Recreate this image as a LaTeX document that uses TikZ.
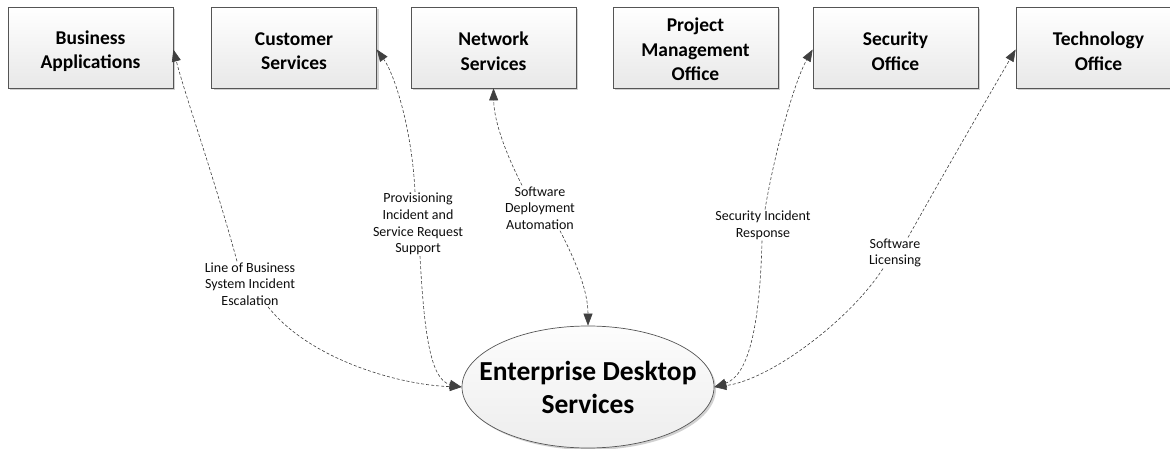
\documentclass[tikz,border=0pt]{standalone}
\usepackage{fontspec}
\setmainfont{Carlito}
\usetikzlibrary{arrows.meta,shapes.geometric,shadows,calc}
\definecolor{linec}{HTML}{404040}
\definecolor{edgec}{HTML}{555555}
\tikzset{
  unitbox/.style={rectangle, draw=edgec, line width=0.7pt, top color=white, bottom color=black!9,
    minimum width=165pt, minimum height=81pt, inner sep=0pt,
    drop shadow={shadow xshift=2pt, shadow yshift=-2pt, fill=black!30, opacity=0.6}},
  boxtext/.style={align=center, inner sep=0pt, font=\fontsize{19.5}{24.5}\selectfont\bfseries},
  hub/.style={ellipse, draw=edgec, line width=0.7pt, top color=black!1, bottom color=black!7,
    minimum width=252pt, minimum height=122pt, inner xsep=-22pt, inner ysep=0pt, align=center,
    font=\fontsize{27.5}{33}\selectfont\bfseries,
    drop shadow={shadow xshift=2pt, shadow yshift=-2pt, fill=black!30, opacity=0.6}},
  lbl/.style={align=center, inner sep=1pt, text=black!95, font=\fontsize{14}{16.7}\selectfont},
  conn/.style={draw=linec, line width=0.6pt, dash pattern=on 3pt off 2pt,
    -{Triangle[length=12pt,width=9pt,fill=linec]}}
}
\begin{document}
\begin{tikzpicture}[x=1pt,y=-1pt]
\useasboundingbox (0,0) rectangle (1170,449);
\clip (0,0) rectangle (1170,449);
% boxes
\node[unitbox] (BA) at (90.5,47.5) {};
\node[unitbox] (CS) at (294,47.5) {};
\node[unitbox] (NS) at (493.5,47.5) {};
\node[unitbox] (PMO) at (695.5,47.5) {};
\node[unitbox] (SO) at (895.5,47.5) {};
\node[unitbox] (TO) at (1098.5,47.5) {};
\node[boxtext] (BAt) at ([yshift=-3.5pt]BA.center) {Business\\Applications};
\node[boxtext] (CSt) at ([yshift=-3.5pt]CS.center) {Customer\\Services};
\node[boxtext] (NSt) at ([yshift=-3.5pt]NS.center) {Network\\Services};
\node[boxtext] (PMOt) at ([yshift=-2pt]PMO.center) {Project\\Management\\Office};
\node[boxtext] (SOt) at ([yshift=-3.5pt]SO.center) {Security\\Office};
\node[boxtext] (TOt) at ([yshift=-3.5pt]TO.center) {Technology\\Office};
% hub
\node[hub] (E) at (588,387) {Enterprise Desktop\\Services};
% labels
\node[lbl] (l1) at (250,284) {Line of Business\\System Incident\\Escalation};
\node[lbl] (l2) at (418,224) {Provisioning\\Incident and\\Service Request\\Support};
\node[lbl] (l3) at (540,208) {Software\\Deployment\\Automation};
\node[lbl] (l4) at (763,225) {Security Incident\\Response};
\node[lbl] (l5) at (895,253) {Software\\Licensing};
% connectors
\draw[conn] ([xshift=-13pt]l1.north) .. controls (215,180) and (185,95) .. ([yshift=-2pt]BA.east);
\draw[conn] ([xshift=18pt]l1.south) .. controls (310,360) and (400,385) .. (E.west);
\draw[conn] ([xshift=-3pt]l2.north) .. controls (412,130) and (395,75) .. ([yshift=-2pt]CS.east);
\draw[conn] ([xshift=2pt]l2.south) .. controls (424,330) and (430,380) .. (E.west);
\draw[conn] ([xshift=-18pt]l3.north) .. controls (510,162) and (494,125) .. (NS.south);
\draw[conn] ([xshift=20pt]l3.south) .. controls (575,260) and (588,290) .. (E.north);
\draw[conn] ([xshift=2pt]l4.north) .. controls (775,150) and (795,80) .. ([yshift=-2pt]SO.west);
\draw[conn] ([xshift=-1pt]l4.south) .. controls (760,320) and (750,375) .. (E.east);
\draw[conn] ([xshift=13pt]l5.north) .. controls (940,180) and (995,85) .. ([yshift=-2pt]TO.west);
\draw[conn] ([xshift=-12pt]l5.south) .. controls (850,320) and (770,380) .. (E.east);
\end{tikzpicture}
\end{document}
